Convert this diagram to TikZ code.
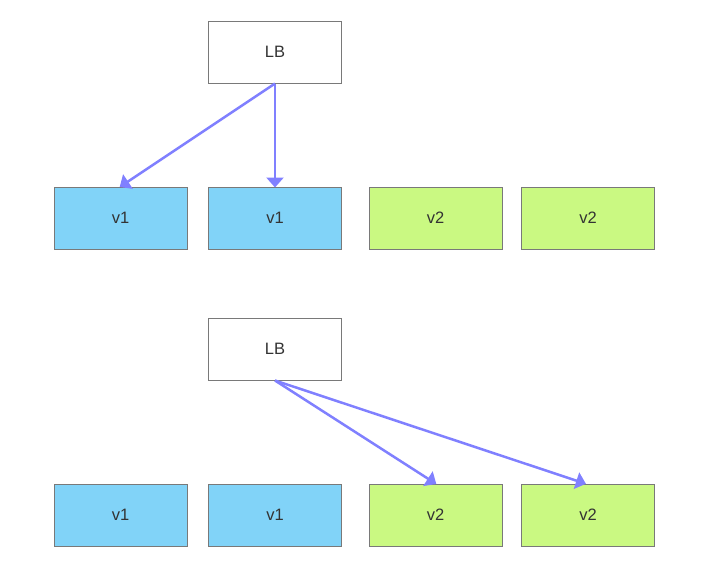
\documentclass[tikz,border=0pt]{standalone}
\usepackage{fontspec}
\setmainfont{Liberation Sans}
\usetikzlibrary{arrows.meta}
\definecolor{boxline}{HTML}{797979}
\definecolor{bluefill}{HTML}{81D3F8}
\definecolor{greenfill}{HTML}{CAF982}
\definecolor{arrowcol}{HTML}{8080FF}
\definecolor{txt}{HTML}{333333}
\tikzset{
  box/.style={draw=boxline, line width=1pt, minimum width=133pt, minimum height=62pt, inner sep=0pt, text=txt, font=\fontsize{16.5}{19}\selectfont},
  lbbox/.style={box, fill=white},
  bluebox/.style={box, fill=bluefill},
  greenbox/.style={box, fill=greenfill},
  conn/.style={draw=arrowcol, line width=2.5pt, -{Triangle[length=10pt,width=17pt]}, shorten >=-1pt}
}
\begin{document}
\begin{tikzpicture}[x=1pt,y=-1pt]
\useasboundingbox (0,0) rectangle (721,579);
% top
\node[lbbox] (lb1) at (275,52) {LB};
\node[bluebox] (a1) at (120.5,218) {v1};
\node[bluebox] (a2) at (275,218) {v1};
\node[greenbox] (a3) at (435.5,218) {v2};
\node[greenbox] (a4) at (588,218) {v2};
\draw[conn] (lb1.south) -- (a1.north);
\draw[conn] (lb1.south) -- (a2.north);
% bottom
\node[lbbox] (lb2) at (275,349) {LB};
\node[bluebox] (b1) at (120.5,515) {v1};
\node[bluebox] (b2) at (275,515) {v1};
\node[greenbox] (b3) at (435.5,515) {v2};
\node[greenbox] (b4) at (588,515) {v2};
\draw[conn] (lb2.south) -- (b3.north);
\draw[conn] (lb2.south) -- ([xshift=-3pt]b4.north);
\end{tikzpicture}
\end{document}
